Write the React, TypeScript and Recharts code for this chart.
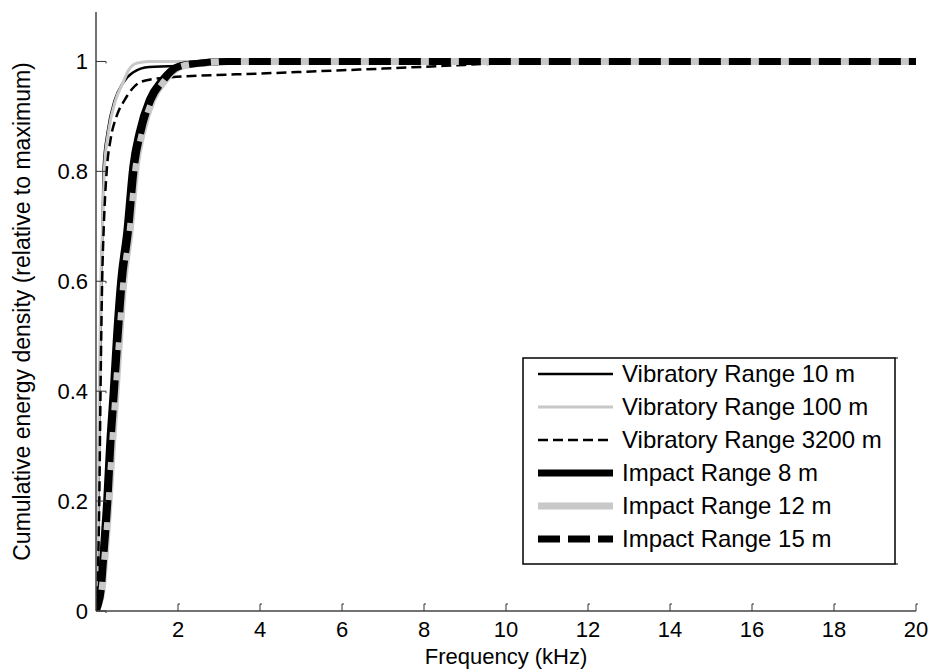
import { LineChart, Line, XAxis, YAxis, Legend } from 'recharts';

// frequencies in kHz, levels relative to maximum
const vib10Freq = [0, 0.03, 0.06, 0.09, 0.13, 0.16, 0.19, 0.28, 0.46, 0.65, 0.9, 1.3, 2.5, 4, 20];
const vib10Level = [0, 0.05, 0.2, 0.4, 0.6, 0.7, 0.81, 0.87, 0.93, 0.96, 0.98, 0.99, 0.993, 1, 1];

const vib100Freq = [0, 0.02, 0.05, 0.08, 0.12, 0.16, 0.21, 0.3, 0.48, 0.65, 0.8, 1.0, 1.3, 20];
const vib100Level = [0, 0.05, 0.2, 0.4, 0.6, 0.7, 0.81, 0.87, 0.93, 0.96, 0.985, 0.997, 1, 1];

const vib3200Freq = [0, 0.04, 0.08, 0.11, 0.15, 0.19, 0.26, 0.36, 0.5, 0.7, 0.88, 1.07, 1.4, 1.8, 2.5, 4, 5, 6, 7, 8.5, 10, 12, 20];
const vib3200Level = [0, 0.05, 0.2, 0.4, 0.6, 0.7, 0.8, 0.86, 0.9, 0.93, 0.95, 0.962, 0.968, 0.971, 0.974, 0.978, 0.981, 0.984, 0.987, 0.992, 0.997, 1, 1];

const imp8Freq = [0, 0.05, 0.12, 0.17, 0.26, 0.33, 0.42, 0.5, 0.6, 0.75, 0.9, 1.05, 1.3, 1.6, 1.97, 2.5, 3.2, 20];
const imp8Level = [0, 0.01, 0.04, 0.1, 0.2, 0.3, 0.4, 0.5, 0.6, 0.69, 0.81, 0.87, 0.93, 0.965, 0.99, 0.997, 1, 1];

const imp12Freq = [0, 0.06, 0.15, 0.22, 0.32, 0.4, 0.49, 0.58, 0.68, 0.83, 0.98, 1.13, 1.38, 1.68, 2.05, 2.6, 3.3, 20];
const imp12Level = [0, 0.01, 0.04, 0.1, 0.2, 0.3, 0.4, 0.5, 0.6, 0.69, 0.81, 0.87, 0.93, 0.965, 0.99, 0.997, 1, 1];

const imp15Freq = [0, 0.05, 0.13, 0.19, 0.29, 0.36, 0.45, 0.54, 0.64, 0.79, 0.94, 1.09, 1.34, 1.64, 2.0, 2.55, 3.2, 20];
const imp15Level = [0, 0.01, 0.04, 0.1, 0.2, 0.3, 0.4, 0.5, 0.6, 0.69, 0.81, 0.87, 0.93, 0.965, 0.99, 0.997, 1, 1];

const xTicks = [2, 4, 6, 8, 10, 12, 14, 16, 18, 20];
const yTicks = [0, 0.2, 0.4, 0.6, 0.8, 1];

const FONT = '"Liberation Sans", Arial, Helvetica, sans-serif';
const GRAY = '#c8c8c8';

const zip = (f: number[], v: number[]) => f.map((x, i) => ({ f: x, v: v[i] }));

const series = [
  { name: 'Vibratory Range 10 m', data: zip(vib10Freq, vib10Level), stroke: '#000', width: 2.5, dash: undefined },
  { name: 'Vibratory Range 100 m', data: zip(vib100Freq, vib100Level), stroke: GRAY, width: 3, dash: undefined },
  { name: 'Vibratory Range 3200 m', data: zip(vib3200Freq, vib3200Level), stroke: '#000', width: 2.5, dash: '10 5' },
  { name: 'Impact Range 8 m', data: zip(imp8Freq, imp8Level), stroke: '#000', width: 7, dash: undefined },
  { name: 'Impact Range 12 m', data: zip(imp12Freq, imp12Level), stroke: GRAY, width: 7, dash: undefined },
  { name: 'Impact Range 15 m', data: zip(imp15Freq, imp15Level), stroke: '#000', width: 7, dash: '22 8' },
];

const XTick = (props: any) => {
  const { x, y, payload } = props;
  return (
    <g>
      <path d={`M${x},${y} V${y - 7} h2`} stroke="#333" strokeWidth={1} fill="none" />
      <text x={x} y={y + 26} textAnchor="middle" fontFamily={FONT} fontSize={22} fill="#000">
        {payload.value}
      </text>
    </g>
  );
};

const YTick = (props: any) => {
  const { x, y, payload } = props;
  return (
    <g>
      <path d={`M${x},${y} H${x + 10} v2`} stroke="#333" strokeWidth={1} fill="none" />
      <text x={x - 8} y={y + 8} textAnchor="end" fontFamily={FONT} fontSize={22} fill="#000">
        {String(payload.value)}
      </text>
    </g>
  );
};

const LegendBox = () => (
  <svg width={380} height={210} style={{ display: 'block' }}>
    <rect x={1} y={1} width={372} height={206} fill="#fff" stroke="#000" strokeWidth={1.5} />
    <path d="M373,1 h3 M373,207 h3" stroke="#000" strokeWidth={1} />
    {series.map((s, i) => {
      const cy = 17 + i * 33;
      return (
        <g key={s.name}>
          <line x1={16} x2={91} y1={cy} y2={cy} stroke={s.stroke} strokeWidth={s.width} strokeDasharray={s.dash} />
          <text x={100} y={cy + 8} fontFamily={FONT} fontSize={24} fill="#000">
            {s.name}
          </text>
        </g>
      );
    })}
  </svg>
);

export default function App() {
  return (
    <div style={{ position: 'absolute', left: 0, top: 0, background: '#fff' }}>
      <LineChart width={928} height={671} margin={{ top: 12, right: 12, bottom: 0, left: 0 }}>
        <XAxis
          type="number"
          dataKey="f"
          domain={[0, 20]}
          ticks={xTicks}
          allowDataOverflow
          height={60}
          tickSize={0}
          tickMargin={0}
          tickLine={false}
          tick={<XTick />}
          axisLine={{ stroke: '#444', strokeWidth: 1.5 }}
          label={{ value: 'Frequency (kHz)', position: 'insideBottom', offset: 7, fontFamily: FONT, fontSize: 22, fill: '#000' }}
        />
        <YAxis
          type="number"
          dataKey="v"
          domain={[0, 1.09]}
          ticks={yTicks}
          allowDataOverflow
          width={96}
          tickSize={0}
          tickMargin={0}
          tickLine={false}
          tick={<YTick />}
          axisLine={{ stroke: '#444', strokeWidth: 1.5 }}
          label={{
            value: 'Cumulative energy density (relative to maximum)',
            angle: -90,
            position: 'insideLeft',
            offset: 22,
            fontFamily: FONT,
            fontSize: 23,
            fill: '#000',
            style: { textAnchor: 'middle' },
          }}
        />
        <Legend
          layout="vertical"
          align="center"
          verticalAlign="middle"
          content={() => <LegendBox />}
          wrapperStyle={{ left: 522, top: 357, width: 380, height: 210 }}
        />
        {series.map((s) => (
          <Line
            key={s.name}
            name={s.name}
            data={s.data}
            dataKey="v"
            type="monotone"
            stroke={s.stroke}
            strokeWidth={s.width}
            strokeDasharray={s.dash}
            dot={false}
            activeDot={false}
            isAnimationActive={false}
          />
        ))}
      </LineChart>
    </div>
  );
}
